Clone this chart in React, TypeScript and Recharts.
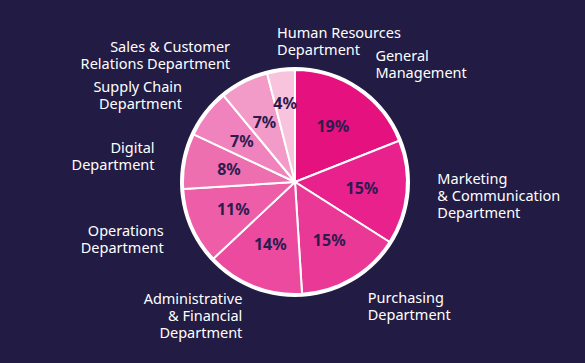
import React from 'react';
import { PieChart, Pie, Cell } from 'recharts';

// Departments, clockwise from 12 o'clock
const DEPARTMENTS = [
  'General\nManagement',
  'Marketing\n& Communication\nDepartment',
  'Purchasing\nDepartment',
  'Administrative\n& Financial\nDepartment',
  'Operations\nDepartment',
  'Digital\nDepartment',
  'Supply Chain\nDepartment',
  'Sales & Customer\nRelations Department',
  'Human Resources\nDepartment',
];
const SHARES = [19, 15, 15, 14, 11, 8, 7, 7, 4];

const COLORS = [
  '#e4117f',
  '#e8218d',
  '#ea3896',
  '#ec4a9e',
  '#ee5ea8',
  '#ee6fb0',
  '#f083bd',
  '#f39bc8',
  '#f7c3dd',
];

const BG = '#221c44';
const FONT = '"Noto Sans", sans-serif';
const RAD = Math.PI / 180;

const chartData = DEPARTMENTS.map((name, i) => ({ name, value: SHARES[i] }));

const renderLabels = (props: any) => {
  const { cx, cy, midAngle, outerRadius, value, name } = props;
  const cos = Math.cos(-midAngle * RAD);
  const sin = Math.sin(-midAngle * RAD);

  // percentage inside the slice
  const ir = outerRadius * (value < 5 ? 0.71 : 0.6);
  const ix = cx + ir * cos;
  const iy = cy + ir * sin;

  // department name outside
  const or = outerRadius + 31;
  const ox = cx + or * cos;
  const oy = cy + or * sin;
  const anchor = ox > cx - 25 ? 'start' : 'end';
  const lines = String(name).split('\n');
  const lh = 17;
  const top = oy - ((lines.length - 1) * lh) / 2;

  return (
    <g>
      <text
        x={ix}
        y={iy}
        textAnchor="middle"
        dominantBaseline="central"
        fill="#2d1b4e"
        fontFamily={FONT}
        fontWeight={700}
        fontSize={16}
      >
        {value}%
      </text>
      <text
        x={ox}
        y={top}
        textAnchor={anchor}
        fill="#ffffff"
        fontFamily={FONT}
        fontSize={14.5}
      >
        {lines.map((l, k) => (
          <tspan key={k} x={ox} y={top + k * lh} dominantBaseline="central">
            {l}
          </tspan>
        ))}
      </text>
    </g>
  );
};

export default function App() {
  return (
    <div style={{ position: 'fixed', left: 0, top: 0, width: 585, height: 363, background: BG }}>
      <PieChart width={585} height={363} margin={{ top: 0, right: 0, bottom: 0, left: 0 }}>
        {/* white rim behind the slices */}
        <Pie
          data={[{ v: 1 }]}
          dataKey="v"
          cx={295}
          cy={182}
          outerRadius={115}
          fill="#ffffff"
          stroke="none"
          isAnimationActive={false}
        />
        <Pie
          data={chartData}
          dataKey="value"
          nameKey="name"
          cx={295}
          cy={182}
          outerRadius={112}
          startAngle={90}
          endAngle={-270}
          stroke="#ffffff"
          strokeWidth={2}
          label={renderLabels}
          labelLine={false}
          isAnimationActive={false}
        >
          {chartData.map((d, i) => (
            <Cell key={d.name} fill={COLORS[i]} />
          ))}
        </Pie>
      </PieChart>
    </div>
  );
}
